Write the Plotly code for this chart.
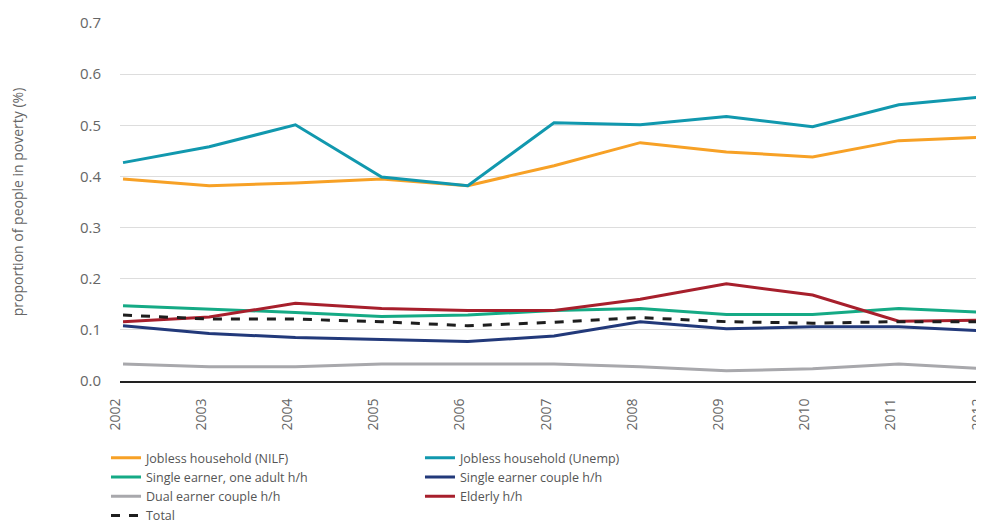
import plotly.graph_objects as go

years = [2002, 2003, 2004, 2005, 2006, 2007, 2008, 2009, 2010, 2011, 2012]
nilf = [0.395, 0.382, 0.387, 0.395, 0.382, 0.421, 0.466, 0.448, 0.438, 0.470, 0.477]
unemp = [0.427, 0.458, 0.501, 0.399, 0.382, 0.505, 0.501, 0.517, 0.497, 0.540, 0.556]
single_adult = [0.147, 0.141, 0.134, 0.126, 0.129, 0.138, 0.142, 0.130, 0.130, 0.142, 0.134]
single_couple = [0.108, 0.093, 0.085, 0.081, 0.077, 0.088, 0.116, 0.102, 0.106, 0.106, 0.098]
dual = [0.033, 0.028, 0.028, 0.033, 0.033, 0.033, 0.028, 0.020, 0.024, 0.033, 0.024]
elderly = [0.116, 0.125, 0.152, 0.142, 0.138, 0.138, 0.160, 0.190, 0.168, 0.117, 0.119]
total = [0.129, 0.121, 0.121, 0.116, 0.108, 0.115, 0.124, 0.116, 0.113, 0.116, 0.116]

# (name, values, colour, dash, legend column)
series = [
    ("Jobless household (NILF)", nilf, "#F7A126", "solid", "legend"),
    ("Jobless household (Unemp)", unemp, "#1198AE", "solid", "legend2"),
    ("Single earner, one adult h/h", single_adult, "#15AA85", "solid", "legend"),
    ("Single earner couple h/h", single_couple, "#22397A", "solid", "legend2"),
    ("Dual earner couple h/h", dual, "#A8A8AC", "solid", "legend"),
    ("Elderly h/h", elderly, "#A71F2C", "solid", "legend2"),
    ("Total", total, "#1E1E1E", "dash", "legend"),
]

fig = go.Figure()
for name, vals, color, dash, leg in series:
    fig.add_trace(go.Scatter(
        x=years, y=vals, name=name, mode="lines", legend=leg,
        line=dict(color=color, width=3, dash=dash),
    ))

font_family = "Open Sans, Lato, sans-serif"
legend_common = dict(
    orientation="v", y=-0.1736, xanchor="left", yanchor="top",
    font=dict(size=12.5, color="#555555"),
    tracegroupgap=0, itemwidth=30, bgcolor="rgba(0,0,0,0)",
)
# page body has an 8px default margin, so the figure is sized/offset to compensate
fig.update_layout(
    width=977, height=517,
    margin=dict(l=112, r=0, t=15, b=144, autoexpand=False),
    plot_bgcolor="white", paper_bgcolor="white",
    font=dict(family=font_family, color="#666666", size=14),
    showlegend=True,
    legend=dict(x=-0.0162, **legend_common),
    legend2=dict(x=0.3468, **legend_common),
    xaxis=dict(
        tickmode="array", tickvals=years, ticktext=[str(y) for y in years],
        tickangle=-90, range=[2001.965, 2012], showgrid=False,
        showline=True, linecolor="#222222", linewidth=2,
        ticks="", tickfont=dict(size=14, color="#666666"),
        ticklabelstandoff=10, ticklabelshift=-8, ticklabeloverflow="allow",
        zeroline=False, automargin=False,
    ),
    yaxis=dict(
        range=[0, 0.7], tickvals=[0, 0.1, 0.2, 0.3, 0.4, 0.5, 0.6, 0.7],
        tickformat=".1f", showgrid=True, gridcolor="#DDDDDD", gridwidth=1,
        zeroline=False, showline=False, ticks="",
        ticklabelstandoff=18, automargin=False,
        tickfont=dict(size=15, color="#666666"),
        title=dict(text="proportion of people in poverty (%)",
                   font=dict(size=14, color="#666666"), standoff=62),
    ),
)

fig.write_html("out.html")
